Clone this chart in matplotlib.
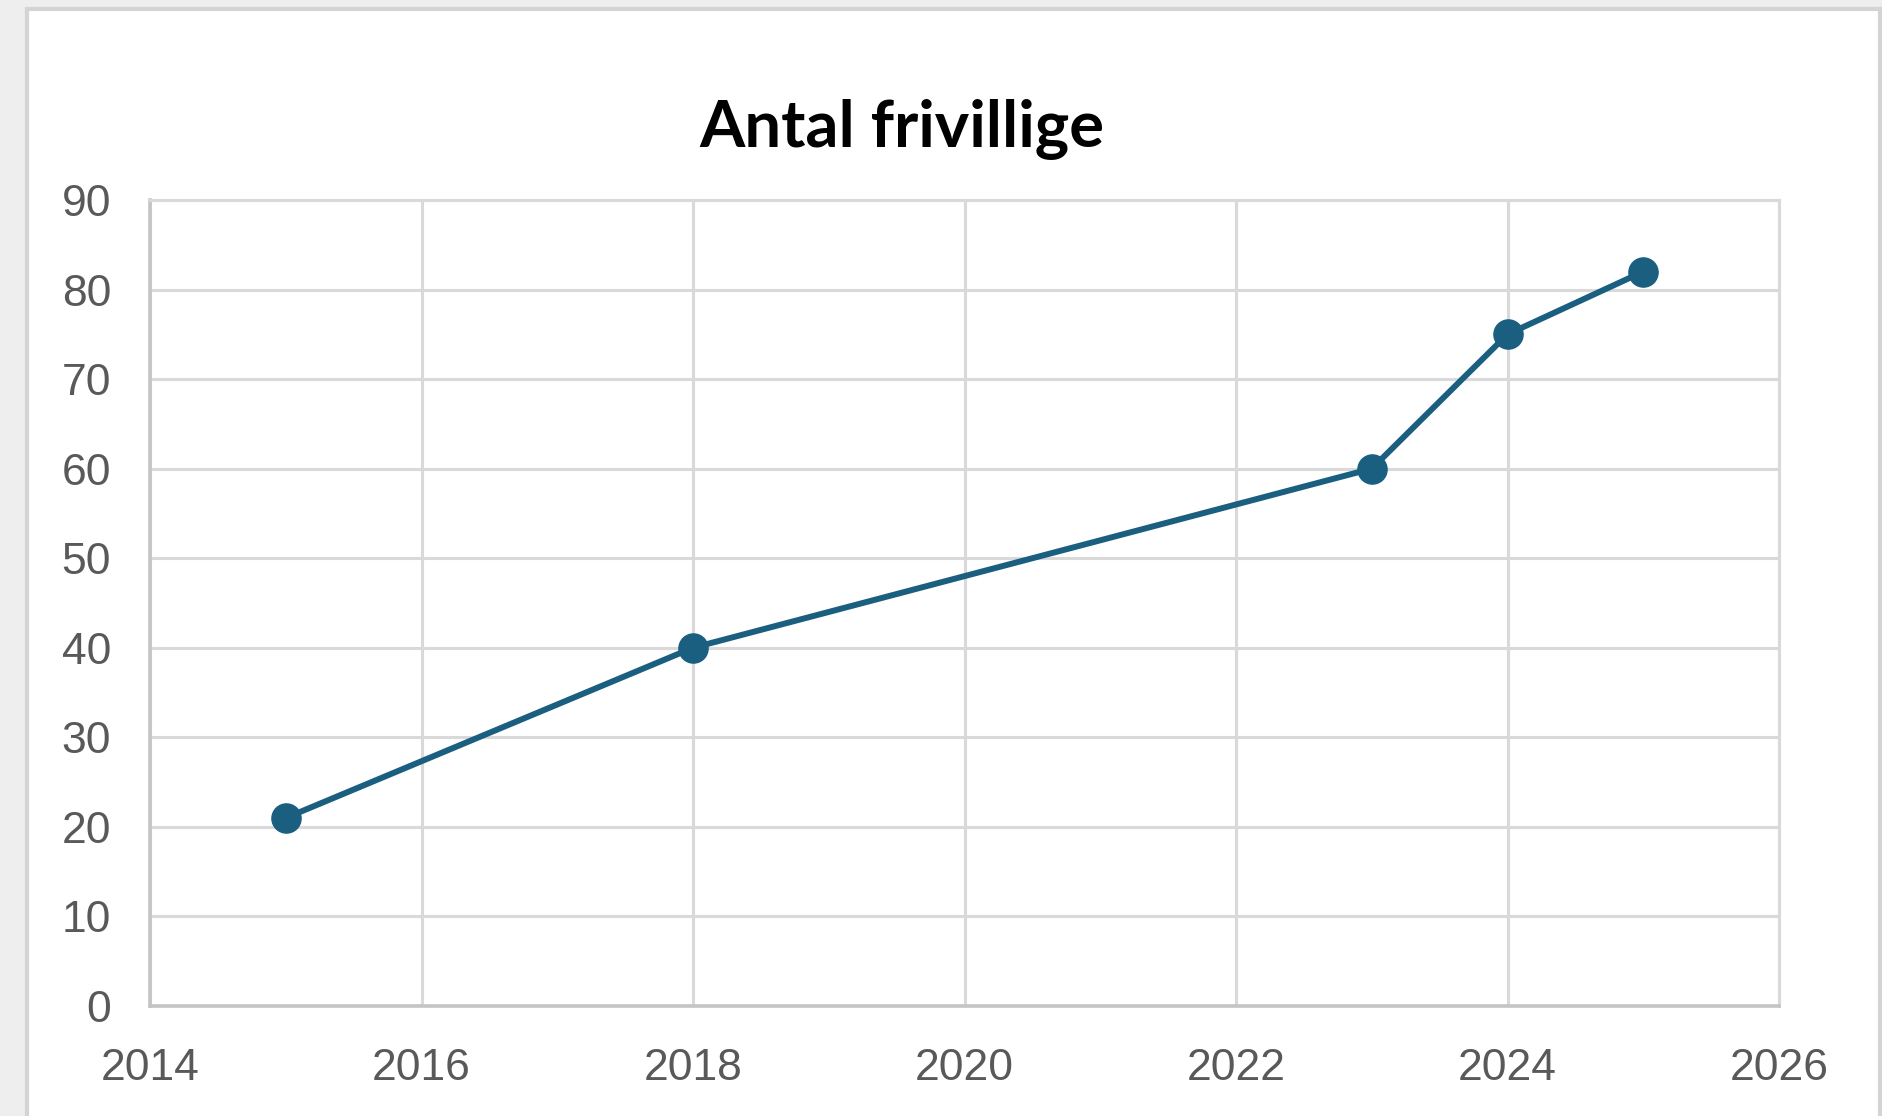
import matplotlib.pyplot as plt
from matplotlib.patches import Rectangle

years = [2015, 2018, 2023, 2024, 2025]
volunteers = [21, 40, 60, 75, 82]
x_ticks = [2014, 2016, 2018, 2020, 2022, 2024, 2026]
y_ticks = [0, 10, 20, 30, 40, 50, 60, 70, 80, 90]

W, H = 1882, 1116
fig = plt.figure(figsize=(W / 100, H / 100), dpi=100, facecolor='#eeeeee')

# white card with thin gray border, kept behind the axes
card = Rectangle((27 / W, -0.05), (1880 - 27) / W, 1.05 - 9 / H,
                 transform=fig.transFigure, facecolor='white',
                 edgecolor='#d4d4d4', linewidth=3, zorder=-10)
fig.patches.append(card)

ax = fig.add_axes([150 / W, 1 - 1006 / H, (1779 - 150) / W, (1006 - 200) / H])
ax.set_facecolor('white')
ax.plot(years, volunteers, color='#1a5e80', linewidth=4.3, marker='o',
        markersize=21, zorder=3, clip_on=False)

ax.set_xlim(2014, 2026)
ax.set_ylim(0, 90)
ax.set_xticks(x_ticks)
ax.set_yticks(y_ticks)
ax.grid(True, color='#d9d9d9', linewidth=2.2)
ax.set_axisbelow(True)
for side in ['top', 'right']:
    ax.spines[side].set_color('#d9d9d9')
    ax.spines[side].set_linewidth(2.2)
for side in ['left', 'bottom']:
    ax.spines[side].set_color('#c4c4c4')
    ax.spines[side].set_linewidth(2.6)
ax.tick_params(length=0, labelsize=32, labelcolor='#595959')
ax.tick_params(axis='y', pad=28)
ax.tick_params(axis='x', pad=30)
for lbl in ax.get_xticklabels() + ax.get_yticklabels():
    lbl.set_fontfamily('Liberation Sans')

fig.text(902 / W, 1 - 130 / H, 'Antal frivillige', ha='center', va='center',
         fontsize=47, fontweight='bold', family=['Lato', 'DejaVu Sans'],
         color='black')

fig.savefig('out.png', dpi=100, facecolor=fig.get_facecolor())
